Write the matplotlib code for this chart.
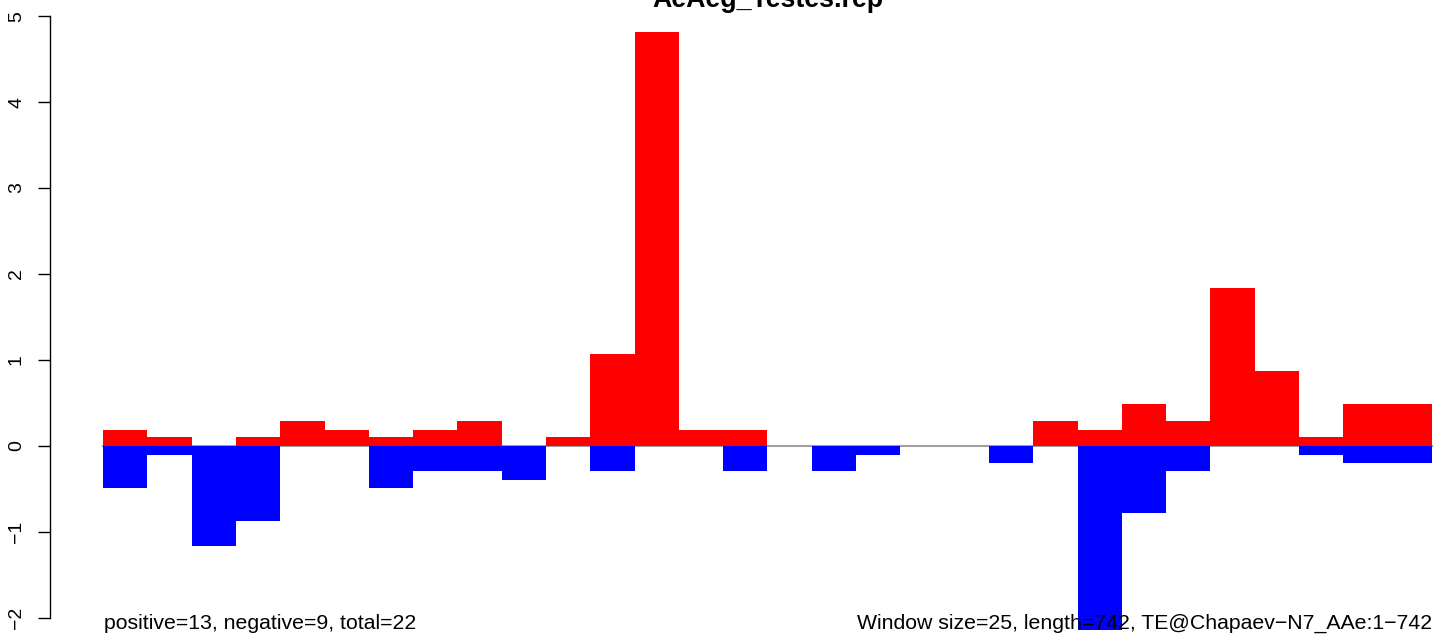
import numpy as np
import matplotlib
matplotlib.use("Agg")
import matplotlib.pyplot as plt

plt.rcParams['font.family'] = ['Liberation Sans', 'DejaVu Sans']

# window scores (30 windows of 25 bp)
pos_vals = [0.19, 0.10, 0.00, 0.10, 0.29, 0.19, 0.10, 0.19, 0.29, 0.00,
            0.10, 1.07, 4.82, 0.19, 0.19, 0.00, 0.00, 0.00, 0.00, 0.00,
            0.00, 0.29, 0.19, 0.49, 0.29, 1.84, 0.87, 0.10, 0.49, 0.49]
neg_vals = [-0.49, -0.10, -1.16, -0.87, 0.00, 0.00, -0.49, -0.29, -0.29, -0.39,
            0.00, -0.29, 0.00, 0.00, -0.29, 0.00, -0.29, -0.10, 0.00, 0.00,
            -0.20, 0.00, -2.14, -0.78, -0.29, 0.00, 0.00, -0.10, -0.20, -0.20]
y_ticks = [-2, -1, 0, 1, 2, 3, 4, 5]

title = "AeAeg_Testes.rep"
left_note = "positive=13, negative=9, total=22"
right_note = "Window size=25, length=742, TE@Chapaev\u2212N7_AAe:1\u2212742"

W, H = 1444, 634
fig = plt.figure(figsize=(W / 100, H / 100), dpi=100)
# plot region as R would place it (extends a bit past the image edges)
ax = fig.add_axes([50 / W, (H - 642) / H, 1435 / W, 650 / H])

n = len(pos_vals)
x = np.arange(n)
ax.plot([0, n], [0, 0], color="#a0a0a0", lw=1.5, zorder=1)
ax.bar(x, pos_vals, width=1, align="edge", color="#ff0000", lw=0, zorder=2)
ax.bar(x, neg_vals, width=1, align="edge", color="#0000ff", lw=0, zorder=2)

ax.set_xlim(-0.04 * n, n * 1.04)
ax.set_ylim(-2.28, 5.28)

for s in ["top", "right", "bottom"]:
    ax.spines[s].set_visible(False)
ax.spines["left"].set_bounds(-2, 5)
ax.spines["left"].set_linewidth(1.0)
ax.set_xticks([])
ax.set_yticks(y_ticks)
ax.set_yticklabels([str(t).replace("-", "\u2212") for t in y_ticks],
                   rotation=90, va="center", fontsize=14)
ax.tick_params(axis="y", length=9, width=1.0, pad=9)

fig.text(767.5 / W, 1 - 7 / H, title, ha="center", va="baseline",
         fontsize=19.3, fontweight="bold")
fig.text(104 / W, 1 - 629 / H, left_note, ha="left", va="baseline", fontsize=15.3)
fig.text(1432 / W, 1 - 629 / H, right_note, ha="right", va="baseline", fontsize=15.3)

fig.savefig("out.png", dpi=100)
